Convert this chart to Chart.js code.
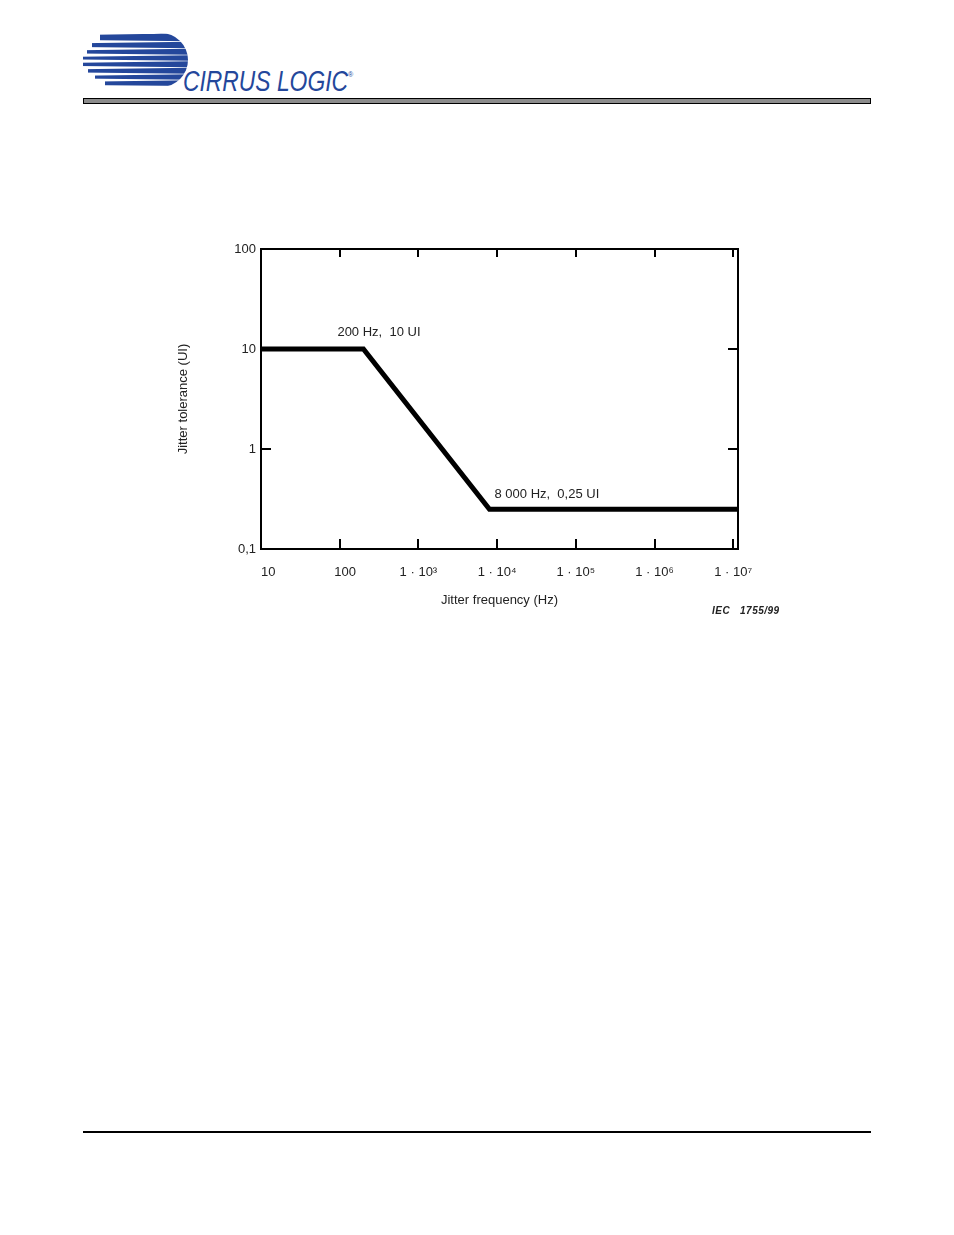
<!DOCTYPE html>
<html>
<head>
  <title>Jitter tolerance template</title>
  <meta name="viewport" content="width=device-width, initial-scale=1">
  <script src="https://cdn.jsdelivr.net/npm/chart.js"></script>
  <style>
    body { margin: 0; width: 954px; height: 1235px; background: white; position: relative; font-family: "Liberation Sans", Arial, sans-serif; }
    .logo { position: absolute; left: 80px; top: 30px; }
    .topbar { position: absolute; left: 83px; top: 98px; width: 786px; height: 4px; background: #8c8c8c; border: 1px solid #000; }
    .bottomline { position: absolute; left: 83px; top: 1131px; width: 788px; height: 2px; background: #000; }
    .chart-box { position: absolute; left: 160px; top: 230px; width: 640px; height: 400px; }
    .iec { position: absolute; left: 712px; top: 605px; font-size: 10px; font-style: italic; font-weight: bold; color: #222; letter-spacing: 0.5px; }
  </style>
</head>
<body>
  <!-- logo -->
  <svg class="logo" width="290" height="70" viewBox="0 0 290 70">
    <g fill="#24479b">
      <circle cx="81" cy="30" r="27"/>
      <rect x="20" y="4" width="62" height="8"/>
      <rect x="12" y="11" width="70" height="8"/>
      <rect x="7" y="18" width="75" height="7"/>
      <rect x="3" y="25" width="79" height="7"/>
      <rect x="3" y="31" width="79" height="7"/>
      <rect x="8" y="37" width="74" height="7"/>
      <rect x="15" y="44" width="67" height="7"/>
      <rect x="25" y="50" width="57" height="6"/>
    </g>
    <g fill="white">
      <polygon points="0,0 110,2.5 110,3.2 0,5"/>
      <polygon points="0,10 110,11.3 110,11.8 0,13.2"/>
      <polygon points="0,17 110,18.3 110,18.8 0,20.2"/>
      <polygon points="0,23.5 110,24.8 110,25.3 0,26.7"/>
      <polygon points="0,29.5 110,30.8 110,31.3 0,32.7"/>
      <polygon points="0,36 110,37.3 110,37.8 0,39.2"/>
      <polygon points="0,42.5 110,43.8 110,44.3 0,45.7"/>
      <polygon points="0,48.5 110,49.8 110,50.3 0,51.7"/>
      <polygon points="0,55 110,56 110,58 0,58"/>
    </g>
    <text x="103" y="61" font-family="Liberation Sans, Arial" font-size="29" font-style="italic" fill="#24479b" stroke="white" stroke-width="5" paint-order="stroke" stroke-linejoin="round" textLength="165" lengthAdjust="spacingAndGlyphs">CIRRUS LOGIC</text>
    <text x="268" y="47" font-family="Liberation Sans, Arial" font-size="7" fill="#24479b">®</text>
  </svg>
  <div class="topbar"></div>

  <div class="chart-box">
    <canvas id="jitterChart" width="640" height="400"></canvas>
  </div>
  <div class="iec">IEC&nbsp;&nbsp;&nbsp;1755/99</div>

  <div class="bottomline"></div>

  <script>
    // data
    var freqHz = [10, 200, 8000, 11500000];
    var toleranceUI = [10, 10, 0.25, 0.25];
    var xTickValues = [10, 100, 1000, 10000, 100000, 1000000, 10000000];
    var xTickLabels = ['    10', '   100', '1 · 10³', '1 · 10⁴', '1 · 10⁵', '1 · 10⁶', '1 · 10⁷'];
    var yTickValues = [0.1, 1, 10, 100];
    var yTickLabels = ['0,1', '1', '10', '100'];
    var noteLabels = ['200 Hz,  10 UI', '8 000 Hz,  0,25 UI'];
    var notePoints = [[200, 10], [8000, 0.25]];

    var points = [];
    for (var i = 0; i < freqHz.length; i++) {
      points.push({ x: freqHz[i], y: toleranceUI[i] });
    }

    var fontSpec = { family: "'Liberation Sans', Arial, sans-serif", size: 13 };

    // inward tick marks, frame and notes
    var framePlugin = {
      id: 'frame',
      afterDraw: function(chart) {
        var ctx = chart.ctx;
        var a = chart.chartArea;
        var xs = chart.scales.x, ys = chart.scales.y;
        ctx.save();
        ctx.strokeStyle = '#000';
        ctx.lineWidth = 2;
        ctx.strokeRect(a.left, a.top, a.right - a.left, a.bottom - a.top);
        ctx.beginPath();
        xTickValues.forEach(function(v) {
          var px = Math.round(xs.getPixelForValue(v));
          ctx.moveTo(px, a.bottom); ctx.lineTo(px, a.bottom - 10);
          ctx.moveTo(px, a.top); ctx.lineTo(px, a.top + 8);
        });
        yTickValues.forEach(function(v) {
          var py = Math.round(ys.getPixelForValue(v));
          ctx.moveTo(a.left, py); ctx.lineTo(a.left + 10, py);
          ctx.moveTo(a.right, py); ctx.lineTo(a.right - 10, py);
        });
        ctx.stroke();
        ctx.fillStyle = '#222';
        ctx.font = "13px 'Liberation Sans', Arial, sans-serif";
        ctx.textBaseline = 'middle';
        var p0x = xs.getPixelForValue(notePoints[0][0]);
        var p0y = ys.getPixelForValue(notePoints[0][1]);
        ctx.fillText(noteLabels[0], p0x - 26, p0y - 17);
        var p1x = xs.getPixelForValue(notePoints[1][0]);
        var p1y = ys.getPixelForValue(notePoints[1][1]);
        ctx.fillText(noteLabels[1], p1x + 5, p1y - 15);
        ctx.restore();
      }
    };

    var chart = new Chart(document.getElementById('jitterChart'), {
      type: 'line',
      data: {
        datasets: [{
          data: points,
          borderColor: '#000',
          borderWidth: 5,
          pointRadius: 0,
          tension: 0,
          fill: false
        }]
      },
      options: {
        responsive: false,
        animation: false,
        plugins: { legend: { display: false }, tooltip: { enabled: false } },
        layout: { padding: { left: 0, right: 62, top: 19, bottom: 0 } },
        scales: {
          x: {
            type: 'logarithmic',
            min: 10,
            max: 11500000,
            afterBuildTicks: function(scale) {
              scale.ticks = xTickValues.map(function(v) { return { value: v }; });
            },
            afterFit: function(scale) { scale.height = 81; },
            grid: { display: false, drawTicks: false },
            border: { display: false },
            ticks: {
              autoSkip: false,
              maxRotation: 0,
              padding: 16,
              color: '#222',
              font: fontSpec,
              callback: function(value) {
                var k = xTickValues.indexOf(value);
                return k >= 0 ? xTickLabels[k] : '';
              }
            },
            title: {
              display: true,
              text: 'Jitter frequency (Hz)',
              color: '#222',
              font: fontSpec,
              padding: { top: 0, bottom: 22 }
            }
          },
          y: {
            type: 'logarithmic',
            min: 0.1,
            max: 100,
            afterBuildTicks: function(scale) {
              scale.ticks = yTickValues.map(function(v) { return { value: v }; });
            },
            afterFit: function(scale) { scale.width = 101; },
            grid: { display: false, drawTicks: false },
            border: { display: false },
            ticks: {
              autoSkip: false,
              padding: 5,
              color: '#222',
              font: fontSpec,
              callback: function(value) {
                var k = yTickValues.indexOf(value);
                return k >= 0 ? yTickLabels[k] : '';
              }
            },
            title: {
              display: true,
              text: 'Jitter tolerance (UI)',
              color: '#222',
              font: fontSpec,
              padding: { top: 16, bottom: 0 }
            }
          }
        }
      },
      plugins: [framePlugin]
    });
  </script>
</body>
</html>
